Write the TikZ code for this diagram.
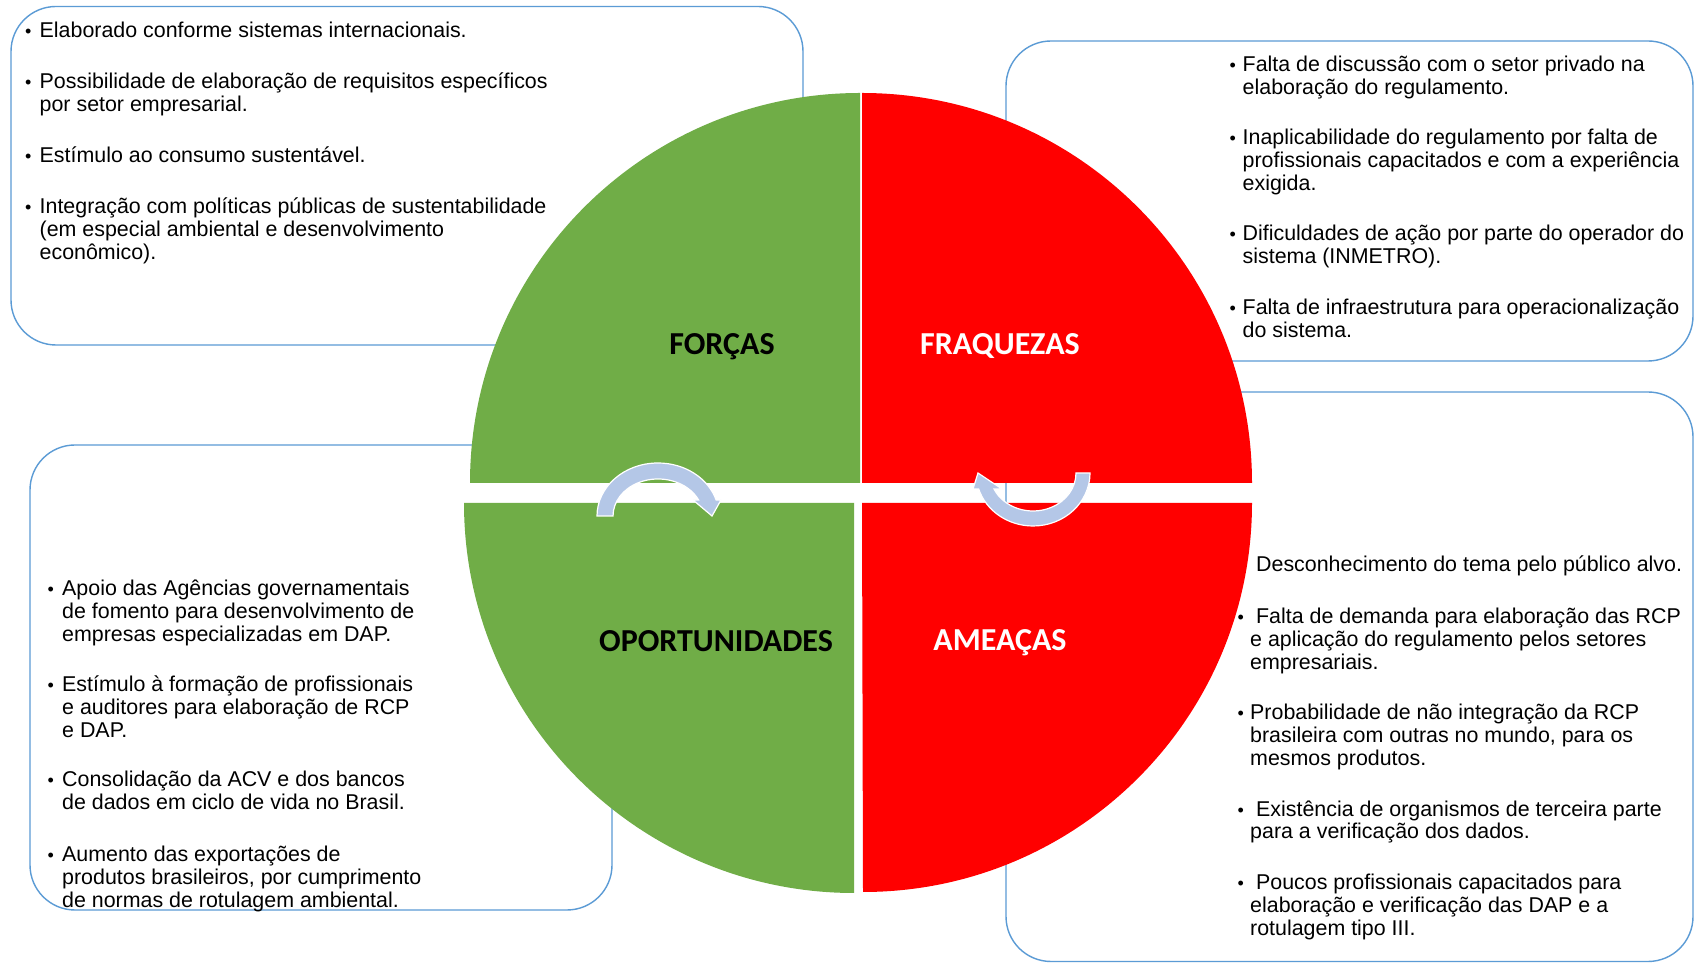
\documentclass[tikz,border=0pt]{standalone}
\usepackage{fontspec}
\setmainfont{Liberation Sans}
\newfontfamily\titlefont{Carlito}
\definecolor{qgreen}{HTML}{70AD47}
\definecolor{qred}{HTML}{FF0000}
\definecolor{boxblue}{HTML}{5B9BD5}
\definecolor{arrowblue}{HTML}{B4C7E7}
\newcommand{\bitem}[2]{\begin{tabular}[t]{@{}l@{}l@{}}\makebox[#1][l]{\hspace{1.5pt}{\fontsize{18}{18}\selectfont •}}&\begin{tabular}[t]{@{}l@{}}#2\end{tabular}\end{tabular}}
\tikzset{
  boxsty/.style={draw=boxblue, line width=1.4pt, rounded corners=45pt},
  itm/.style={anchor=base west, inner sep=0pt, font=\fontsize{21.4}{22.8}\selectfont},
  titlesty/.style={anchor=base, inner sep=0pt, font=\titlefont\bfseries\fontsize{32}{38}\selectfont},
  arrowsty/.style={fill=arrowblue, draw=white, line width=1.2pt, line join=miter},
}
\begin{document}
\begin{tikzpicture}[x=1pt,y=1pt]
\useasboundingbox (0,0) rectangle (1695,963);
\fill[white] (0,0) rectangle (1695,963);
% text boxes
\draw[boxsty] (11,618) rectangle (803,956.5);
\draw[boxsty] (1006,602) rectangle (1693,922);
\draw[boxsty] (30,53) rectangle (612,518);
\draw[boxsty] (1006,1.5) rectangle (1693,571);
% FORCAS items
\node[itm] (s1) at (23.5,925.5) {\bitem{16pt}{Elaborado conforme sistemas internacionais.}};
\node[itm] (s2) at (23.5,874.5) {\bitem{16pt}{Possibilidade de elaboração de requisitos específicos\\por setor empresarial.}};
\node[itm] (s3) at (23.5,800.5) {\bitem{16pt}{Estímulo ao consumo sustentável.}};
\node[itm] (s4) at (23.5,749.5) {\bitem{16pt}{Integração com políticas públicas de sustentabilidade\\(em especial ambiental e desenvolvimento\\econômico).}};
% FRAQUEZAS items
\node[itm] (w1) at (1228,891.7) {\bitem{14.5pt}{Falta de discussão com o setor privado na\\elaboração do regulamento.}};
\node[itm] (w2) at (1228,818.2) {\bitem{14.5pt}{Inaplicabilidade do regulamento por falta de\\profissionais capacitados e com a experiência\\exigida.}};
\node[itm] (w3) at (1228,722) {\bitem{14.5pt}{Dificuldades de ação por parte do operador do\\sistema (INMETRO).}};
\node[itm] (w4) at (1228,648.5) {\bitem{14.5pt}{Falta de infraestrutura para operacionalização\\do sistema.}};
% OPORTUNIDADES items
\node[itm] (o1) at (46,367.4) {\bitem{16pt}{Apoio das Agências governamentais\\de fomento para desenvolvimento de\\empresas especializadas em DAP.}};
\node[itm] (o2) at (46,271.2) {\bitem{16pt}{Estímulo à formação de profissionais\\e auditores para elaboração de RCP\\e DAP.}};
\node[itm] (o3) at (46,176.1) {\bitem{16pt}{Consolidação da ACV e dos bancos\\de dados em ciclo de vida no Brasil.}};
\node[itm] (o4) at (46,101.5) {\bitem{16pt}{Aumento das exportações de\\produtos brasileiros, por cumprimento\\de normas de rotulagem ambiental.}};
% AMEACAS items
\node[itm] (t1) at (1236,391.2) {\bitem{14pt}{\ Desconhecimento do tema pelo público alvo.}};
\node[itm] (t2) at (1236,339.3) {\bitem{14pt}{\ Falta de demanda para elaboração das RCP\\e aplicação do regulamento pelos setores\\empresariais.}};
\node[itm] (t3) at (1236,243.1) {\bitem{14pt}{Probabilidade de não integração da RCP\\brasileira com outras no mundo, para os\\mesmos produtos.}};
\node[itm] (t4) at (1236,146.9) {\bitem{14pt}{\ Existência de organismos de terceira parte\\para a verificação dos dados.}};
\node[itm] (t5) at (1236,73.4) {\bitem{14pt}{\ Poucos profissionais capacitados para\\elaboração e verificação das DAP e a\\rotulagem tipo III.}};
% quadrants
\fill[qgreen] (860,480) -- (470,480) arc[start angle=180, end angle=90, radius=390pt] -- cycle;
\fill[qred] (862,480) -- (862,870) arc[start angle=90, end angle=0, radius=390pt] -- cycle;
\fill[qgreen] (854,460) -- (464,460) arc[start angle=180, end angle=270, radius=390pt] -- cycle;
\fill[qred] (862,460) -- (1252,460) arc[start angle=0, end angle=-90, radius=389pt] -- cycle;
% curved arrows
\draw[arrowsty] (597,447) arc[start angle=180, end angle=17.5, x radius=61pt, y radius=53pt]
  -- (721,463) -- (712,447) -- (693,463) -- (698.6,463)
  arc[start angle=25.6, end angle=180, x radius=45pt, y radius=37pt] -- cycle;
\draw[arrowsty] (1090,490) arc[start angle=0, end angle=-162.5, x radius=57pt, y radius=53pt]
  -- (973,474) -- (978,490) -- (1002,474) -- (994,474)
  arc[start angle=-155.1, end angle=0, x radius=43pt, y radius=38pt] -- cycle;
% titles
\node[titlesty, text=black] (forcas) at (722,608) {FORÇAS};
\node[titlesty, text=white] (fraquezas) at (1000,608) {FRAQUEZAS};
\node[titlesty, text=black] (oport) at (716,311.5) {OPORTUNIDADES};
\node[titlesty, text=white] (ameacas) at (1000,312.5) {AMEAÇAS};
\end{tikzpicture}
\end{document}
